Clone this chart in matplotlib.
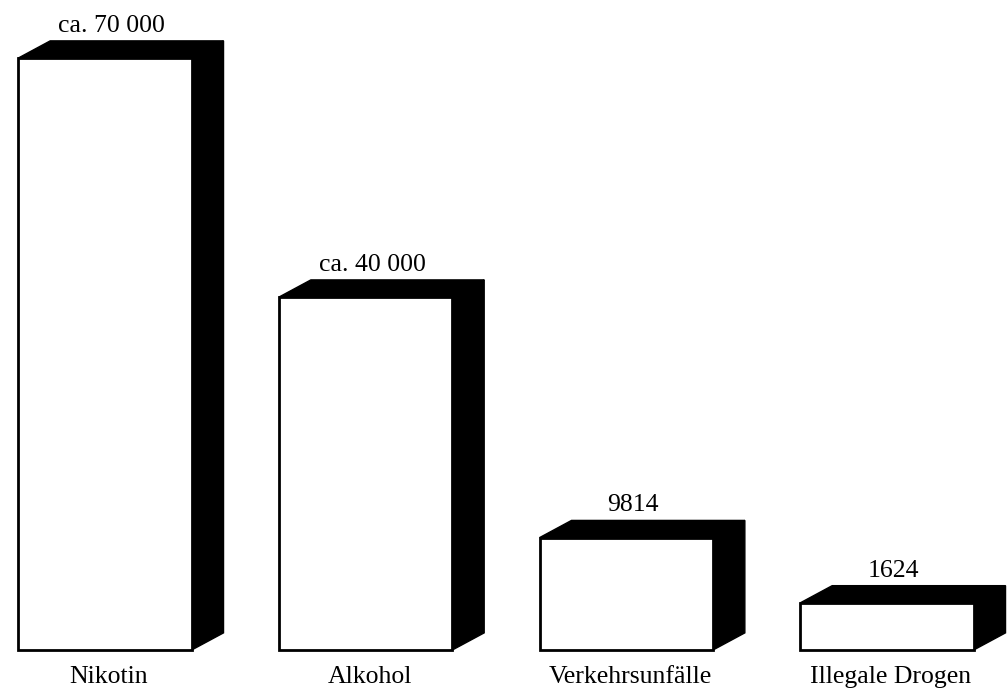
import matplotlib
matplotlib.use("Agg")
import matplotlib.pyplot as plt
from matplotlib.patches import Polygon

categories = ["Nikotin", "Alkohol", "Verkehrsunfälle", "Illegale Drogen"]
values = [70000, 40000, 9814, 1624]
value_labels = ["ca. 70 000", "ca. 40 000", "9814", "1624"]

# baseline of the value axis (the axis does not start at zero)
base = -4300

fig = plt.figure(figsize=(10.08, 6.89), dpi=100)
ax = fig.add_axes([0, 0, 1, 1])
ax.set_xlim(-0.403, 3.464)
ax.set_ylim(-9195, 77280)
ax.axis("off")

width = 0.665
dx = 0.122    # depth offset along x (data units)
dy = 2150     # depth offset along y (data units)
font = dict(family="Liberation Serif", size=18.5, color="black")

xs = list(range(len(categories)))
heights = [v - base for v in values]

for x, v in zip(xs, values):
    left, right = x - width / 2, x + width / 2
    # top face
    ax.add_patch(Polygon([(left, v), (left + dx, v + dy), (right + dx, v + dy),
                          (right, v)], closed=True, facecolor="black",
                         edgecolor="black", lw=1, zorder=2))
    # side face
    ax.add_patch(Polygon([(right, base), (right + dx, base + dy),
                          (right + dx, v + dy), (right, v)], closed=True,
                         facecolor="black", edgecolor="black", lw=1, zorder=2))

ax.bar(xs, heights, bottom=base, width=width, color="white",
       edgecolor="black", linewidth=2, zorder=3)

for x, v, lab in zip(xs, values, value_labels):
    ax.annotate(lab, (x + 0.025, v + dy), xytext=(0, 6.5),
                textcoords="offset points", ha="center", va="baseline", **font)

for x, cat in zip(xs, categories):
    ax.annotate(cat, (x + 0.015, base), xytext=(0, -24),
                textcoords="offset points", ha="center", va="baseline", **font)

fig.savefig("out.png", dpi=100, facecolor="white")
